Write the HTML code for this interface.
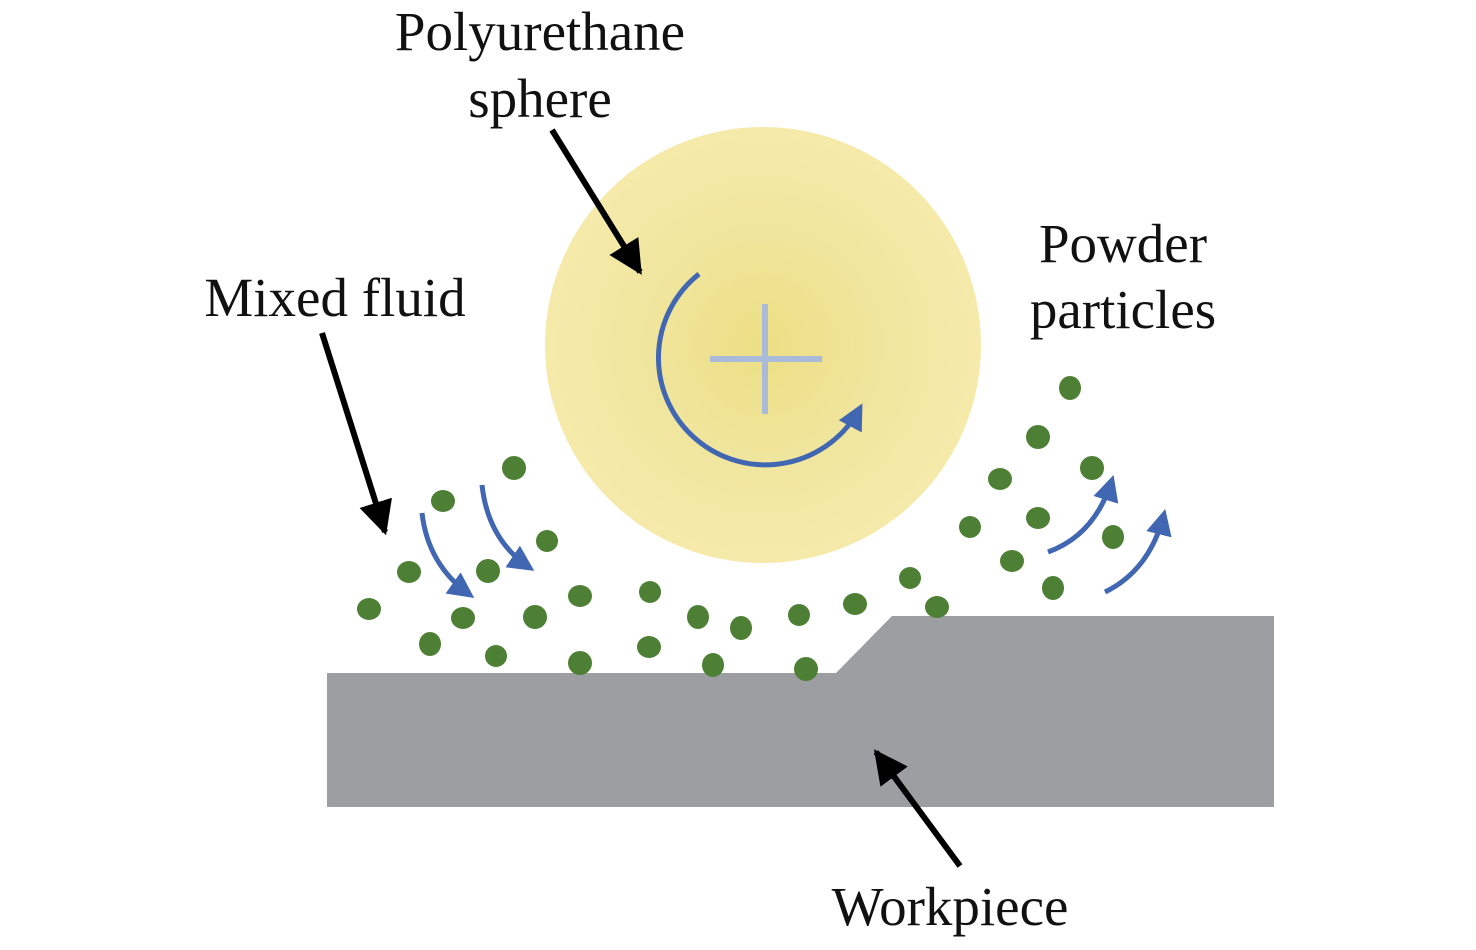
<!DOCTYPE html>
<html><head><style>html,body{margin:0;padding:0;background:#fff}</style></head><body>
<svg width="1476" height="945" viewBox="0 0 1476 945" xmlns="http://www.w3.org/2000/svg">
<defs>
<radialGradient id="g" cx="0.5" cy="0.5" r="0.5">
<stop offset="0" stop-color="#ecdf84"/><stop offset="0.6" stop-color="#f1e6a0"/><stop offset="1" stop-color="#f5eaaa"/>
</radialGradient>
<marker id="bl" viewBox="0 0 10 10" refX="8" refY="5" markerWidth="26" markerHeight="26" orient="auto" markerUnits="userSpaceOnUse"><path d="M0,0 L10,5 L0,10 Z" fill="#4267b2"/></marker>
<marker id="ka" viewBox="0 0 10 10" refX="9" refY="5" markerWidth="34" markerHeight="34" orient="auto" markerUnits="userSpaceOnUse"><path d="M0,0 L10,5 L0,10 Z" fill="#000"/></marker>
</defs>
<circle cx="763" cy="345" r="218" fill="url(#g)"/>
<path d="M710,359 H822 M765,304 V414" stroke="#a9bbd9" stroke-width="6"/>
<path d="M699,274 A107,107 0 1,0 860,408" fill="none" stroke="#4267b2" stroke-width="5" marker-end="url(#bl)"/>
<polygon points="327,673 836,673 892,616 1274,616 1274,807 327,807" fill="#9d9ea2"/>
<g fill="#4d7f35">
<ellipse cx="514" cy="468" rx="12" ry="12"/><ellipse cx="443" cy="501" rx="12" ry="11"/><ellipse cx="547" cy="541" rx="11" ry="11"/><ellipse cx="409" cy="572" rx="12" ry="11"/><ellipse cx="488" cy="571" rx="12" ry="12"/><ellipse cx="369" cy="609" rx="12" ry="11"/><ellipse cx="463" cy="618" rx="12" ry="11"/><ellipse cx="535" cy="617" rx="12" ry="12"/><ellipse cx="580" cy="596" rx="12" ry="11"/><ellipse cx="430" cy="644" rx="11" ry="12"/><ellipse cx="496" cy="656" rx="11" ry="11"/><ellipse cx="580" cy="663" rx="12" ry="12"/><ellipse cx="650" cy="592" rx="11" ry="11"/><ellipse cx="649" cy="647" rx="12" ry="11"/><ellipse cx="698" cy="617" rx="11" ry="12"/><ellipse cx="741" cy="628" rx="11" ry="12"/><ellipse cx="713" cy="665" rx="11" ry="12"/><ellipse cx="799" cy="615" rx="11" ry="11"/><ellipse cx="806" cy="669" rx="12" ry="12"/><ellipse cx="855" cy="604" rx="12" ry="11"/><ellipse cx="910" cy="578" rx="11" ry="11"/><ellipse cx="937" cy="607" rx="12" ry="11"/><ellipse cx="1070" cy="388" rx="11" ry="12"/><ellipse cx="1038" cy="437" rx="12" ry="12"/><ellipse cx="1092" cy="468" rx="12" ry="12"/><ellipse cx="1000" cy="479" rx="12" ry="11"/><ellipse cx="970" cy="527" rx="11" ry="11"/><ellipse cx="1038" cy="518" rx="12" ry="11"/><ellipse cx="1113" cy="537" rx="11" ry="12"/><ellipse cx="1012" cy="561" rx="12" ry="11"/><ellipse cx="1053" cy="588" rx="11" ry="12"/>
</g>
<g fill="none" stroke="#4267b2" stroke-width="5">
<path d="M422,513 Q428,565 470,595" marker-end="url(#bl)"/>
<path d="M482,485 Q488,540 530,568" marker-end="url(#bl)"/>
<path d="M1048,552 Q1095,535 1112,480" marker-end="url(#bl)"/>
<path d="M1105,592 Q1150,570 1164,514" marker-end="url(#bl)"/>
</g>
<g stroke="#000" stroke-width="6" fill="none">
<line x1="552" y1="130" x2="640" y2="272" marker-end="url(#ka)"/>
<line x1="322" y1="333" x2="385" y2="532" marker-end="url(#ka)"/>
<line x1="960" y1="866" x2="876" y2="752" marker-end="url(#ka)"/>
</g>
<g font-family="Liberation Serif, serif" font-size="55" fill="#111" text-anchor="middle">
<text x="540" y="50">Polyurethane</text>
<text x="540" y="117">sphere</text>
<text x="335" y="316">Mixed fluid</text>
<text x="1123" y="262">Powder</text>
<text x="1123" y="328">particles</text>
<text x="950" y="925">Workpiece</text>
</g>
</svg>
</body></html>
